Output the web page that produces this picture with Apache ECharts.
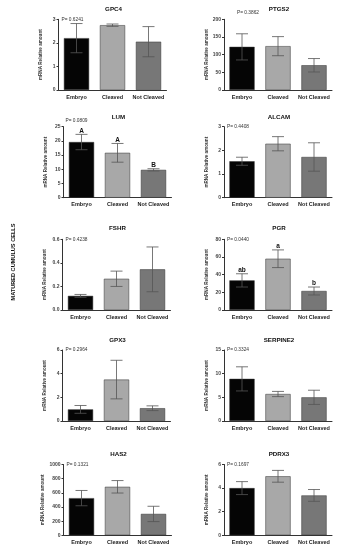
<!DOCTYPE html>
<html>
<head>
<meta charset="utf-8">
<script src="https://cdn.jsdelivr.net/npm/echarts@6/dist/echarts.min.js"></script>
<style>
html,body{margin:0;padding:0;background:#fff;}
#chart{width:337px;height:550px;}
</style>
</head>
<body>
<div id="chart"></div>
<script>
// ---- data ----
const categories = ['Embryo', 'Cleaved', 'Not Cleaved'];
const genes = ['GPC4', 'PTGS2', 'LUM', 'ALCAM', 'FSHR', 'PGR', 'GPX3', 'SERPINE2', 'HAS2', 'PDRX3'];
const pValues = ['P= 0.6241', 'P= 0.3862', 'P= 0.0809', 'P= 0.4408', 'P= 0.4238', 'P= 0.0440', 'P= 0.2964', 'P= 0.3324', 'P= 0.1321', 'P= 0.1697'];
const gpc4Mean = [2.2, 2.75, 2.05];
const gpc4Sem = [0.62, 0.05, 0.64];
const ptgs2Mean = [122, 124, 70];
const ptgs2Sem = [37, 27, 19];
const lumMean = [19.6, 15.8, 9.8];
const lumSem = [2.7, 3.3, 0.4];
const alcamMean = [1.54, 2.28, 1.72];
const alcamSem = [0.17, 0.3, 0.6];
const fshrMean = [0.12, 0.265, 0.345];
const fshrSem = [0.012, 0.065, 0.19];
const pgrMean = [33.5, 58, 21.5];
const pgrSem = [7.5, 10, 4.5];
const gpx3Mean = [0.98, 3.5, 1.08];
const gpx3Sem = [0.33, 1.63, 0.2];
const serpine2Mean = [8.9, 5.7, 5.0];
const serpine2Sem = [2.55, 0.55, 1.5];
const has2Mean = [525, 685, 302];
const has2Sem = [108, 88, 108];
const pdrx3Mean = [4.0, 5.0, 3.38];
const pdrx3Sem = [0.55, 0.5, 0.5];
const lumLetters = ['A', 'A', 'B'];
const pgrLetters = ['ab', 'a', 'b'];
const yMax = [3, 200, 25, 3, 0.6, 80, 6, 15, 1000, 6];
const yInterval = [1, 50, 5, 1, 0.2, 20, 2, 5, 200, 2];
const yDecimals = [0, 0, 0, 0, 1, 0, 0, 0, 0, 0];
const yAxisName = 'mRNA Relative amount';
const sideLabel = 'MATURED CUMULUS CELLS';

const means = [gpc4Mean, ptgs2Mean, lumMean, alcamMean, fshrMean, pgrMean, gpx3Mean, serpine2Mean, has2Mean, pdrx3Mean];
const sems = [gpc4Sem, ptgs2Sem, lumSem, alcamSem, fshrSem, pgrSem, gpx3Sem, serpine2Sem, has2Sem, pdrx3Sem];
const letters = [null, null, lumLetters, null, null, pgrLetters, null, null, null, null];

// ---- layout ----
const FONT = 'Liberation Sans, Arial, sans-serif';
const barColors = ['#050505', '#a8a8a8', '#777777'];
const gridLefts = [58.5, 224, 63.5, 224, 62.5, 224, 62.5, 224, 63.5, 224];
const rowTops = [19.3, 126.7, 239.3, 350, 464.5];
const rowHeights = [70.7, 71, 70.7, 71, 70.8];
const gridW = 108;
const titleY = [9, 117, 228, 340, 454];
// P-label offsets (some sit above the axis top)
const pOffsetY = [0, -7, -6.5, 0, 0, 0, 0, 0, 0, 0];
const pOffsetX = [3, 13, 2, 3, 3, 3, 3, 3, 3, 3];

const grids = [], xAxes = [], yAxes = [], series = [], graphics = [];
for (let i = 0; i < 10; i++) {
  const row = Math.floor(i / 2);
  const left = gridLefts[i], top = rowTops[row], h = rowHeights[row];
  grids.push({left: left, top: top, width: gridW, height: h, containLabel: false});
  xAxes.push({
    type: 'category', gridIndex: i, data: categories,
    axisLine: {lineStyle: {color: '#333', width: 1}},
    axisTick: {show: false},
    axisLabel: {fontSize: 5.5, fontWeight: 'bold', color: '#222', margin: 4, fontFamily: FONT, interval: 0}
  });
  const dec = yDecimals[i];
  yAxes.push({
    type: 'value', gridIndex: i, min: 0, max: yMax[i], interval: yInterval[i],
    name: yAxisName, nameLocation: 'middle', nameGap: 15,
    nameTextStyle: {fontSize: 4.6, fontWeight: 'bold', color: '#333', fontFamily: FONT},
    axisLine: {show: true, lineStyle: {color: '#333', width: 1}},
    axisTick: {show: true, length: 2, lineStyle: {color: '#333'}},
    splitLine: {show: false},
    axisLabel: {fontSize: 5, fontWeight: 'bold', color: '#444', margin: 3, fontFamily: FONT,
      formatter: function (v) { return v.toFixed(dec); }}
  });
  const m = means[i];
  series.push({
    type: 'bar', xAxisIndex: i, yAxisIndex: i, barWidth: '70%',
    data: m.map((v, k) => ({value: v, itemStyle: {color: barColors[k]}})),
    itemStyle: {borderColor: '#333', borderWidth: 0.5},
    silent: true, animation: false
  });
  const lt = letters[i];
  series.push({
    type: 'custom', xAxisIndex: i, yAxisIndex: i, silent: true, animation: false,
    data: m.map((v, k) => [k, v, sems[i][k]]),
    encode: {x: 0, y: 1},
    z: 5,
    renderItem: function (params, api) {
      const k = api.value(0), v = api.value(1), e = api.value(2);
      const hi = api.coord([k, v + e]);
      const lo = api.coord([k, v - e]);
      const cw = 6;
      const ls = {stroke: '#555', lineWidth: 0.8};
      const children = [
        {type: 'line', shape: {x1: hi[0], y1: hi[1], x2: lo[0], y2: lo[1]}, style: ls},
        {type: 'line', shape: {x1: hi[0] - cw, y1: hi[1], x2: hi[0] + cw, y2: hi[1]}, style: ls},
        {type: 'line', shape: {x1: lo[0] - cw, y1: lo[1], x2: lo[0] + cw, y2: lo[1]}, style: ls}
      ];
      if (lt) {
        children.push({type: 'text', x: hi[0], y: hi[1] - 3.5,
          style: {text: lt[params.dataIndex], fontSize: 6.5, fontWeight: 'bold', fill: '#111',
            fontFamily: FONT, align: 'center', verticalAlign: 'middle'}});
      }
      return {type: 'group', children: children};
    }
  });
  graphics.push({
    type: 'text', x: left + gridW / 2 + 1, y: titleY[row],
    style: {text: genes[i], fontSize: 6.2, fontWeight: 'bold', fill: '#111', fontFamily: FONT,
      textAlign: 'center', textVerticalAlign: 'middle'}
  });
  graphics.push({
    type: 'text', x: left + pOffsetX[i], y: top + pOffsetY[i],
    style: {text: pValues[i], fontSize: 4.8, fill: '#333', fontFamily: FONT,
      textAlign: 'left', textVerticalAlign: 'middle'}
  });
}
graphics.push({
  type: 'text', x: 13, y: 262, rotation: Math.PI / 2,
  style: {text: sideLabel, fontSize: 5.6, fontWeight: 'bold', fill: '#111',
    fontFamily: 'Liberation Sans Narrow, Arial Narrow, sans-serif', textAlign: 'center', textVerticalAlign: 'middle'}
});

const chart = echarts.init(document.getElementById('chart'), null, {renderer: 'canvas'});
chart.setOption({
  backgroundColor: '#fff',
  animation: false,
  grid: grids, xAxis: xAxes, yAxis: yAxes, series: series, graphic: graphics
});
</script>
</body>
</html>
